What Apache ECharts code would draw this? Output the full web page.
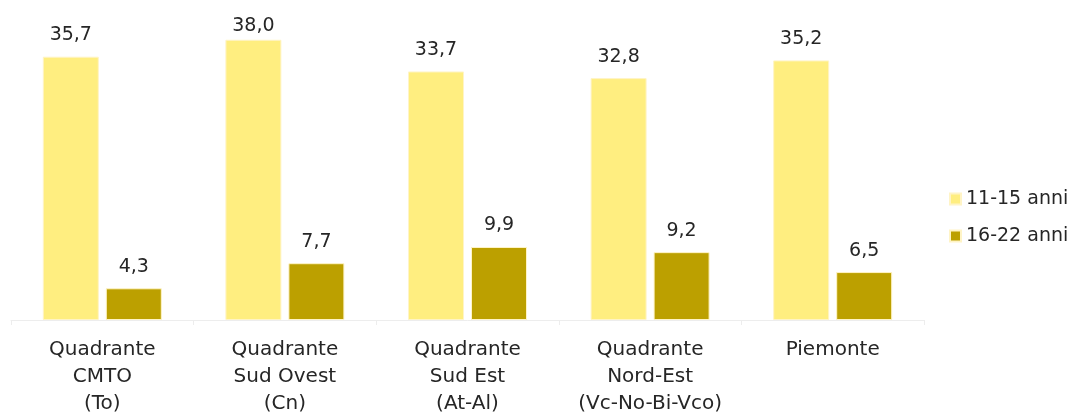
<!DOCTYPE html>
<html>
<head>
<meta charset="utf-8">
<script src="https://cdn.jsdelivr.net/npm/echarts@6/dist/echarts.min.js"></script>
<style>
  html, body { margin: 0; padding: 0; background: #ffffff; }
  #chart { width: 1072px; height: 412px; }
</style>
</head>
<body>
<div id="chart"></div>
<script>
"use strict";

//
// Data
//
const categories = [
  "Quadrante\nCMTO\n(To)",
  "Quadrante\nSud Ovest\n(Cn)",
  "Quadrante\nSud Est\n(At-Al)",
  "Quadrante\nNord-Est\n(Vc-No-Bi-Vco)",
  "Piemonte",
];
const series_names = ["11-15 anni", "16-22 anni"];
const values_11_15 = [35.7, 38.0, 33.7, 32.8, 35.2];
const values_16_22 = [4.3, 7.7, 9.9, 9.2, 6.5];

//
// Chart
//
const font = "'DejaVu Sans', sans-serif";
const colors = ["#FFEE80", "#BCA000"];
const y_max = 40;
const chart = echarts.init(document.getElementById("chart"));

function make_series(name, data, color) {
  // labels of bars close to the top are pushed down a bit (like the original)
  const points = data.map((v) =>
    v > 37 ? { value: v, label: { distance: 4 } } : v
  );
  return {
    type: "bar",
    name: name,
    data: points,
    barWidth: 56,
    barGap: "12.5%",
    itemStyle: { color: color, borderColor: "#FFF4C6", borderWidth: 1 },
    label: {
      show: true,
      position: "top",
      distance: 12,
      fontFamily: font,
      fontSize: 19,
      color: "#262626",
      // comma as decimal separator
      formatter: (p) => p.value.toFixed(1).replace(".", ","),
    },
    animation: false,
  };
}

chart.setOption({
  textStyle: { fontFamily: font },
  grid: {
    left: 11,
    right: 148,
    top: 25,
    bottom: 92,
    containLabel: false,
    outerBoundsMode: "none",
  },
  legend: {
    orient: "vertical",
    left: 949,
    top: 189,
    padding: 0,
    itemWidth: 11,
    itemHeight: 11,
    itemGap: 17,
    icon: "rect",
    data: series_names,
    textStyle: { fontFamily: font, fontSize: 19, color: "#262626", lineHeight: 20 },
  },
  xAxis: {
    type: "category",
    data: categories,
    axisLine: { lineStyle: { color: "#EDEDED", width: 1 } },
    axisTick: { show: true, length: 5, lineStyle: { color: "#EDEDED" } },
    axisLabel: {
      interval: 0,
      margin: 16,
      fontFamily: font,
      fontSize: 20,
      lineHeight: 27,
      color: "#262626",
    },
  },
  yAxis: { type: "value", min: 0, max: y_max, show: false, splitLine: { show: false } },
  series: [
    make_series(series_names[0], values_11_15, colors[0]),
    make_series(series_names[1], values_16_22, colors[1]),
  ],
});
</script>
</body>
</html>
